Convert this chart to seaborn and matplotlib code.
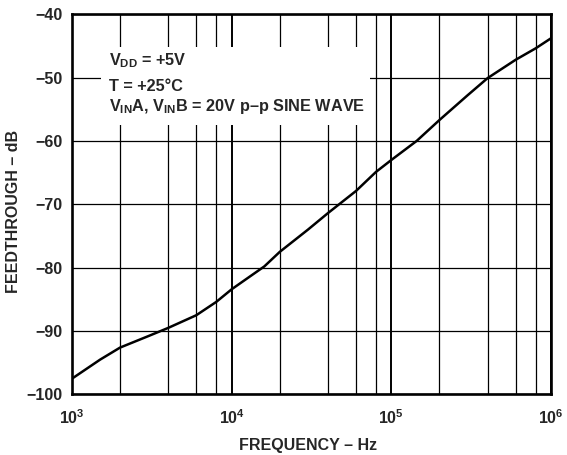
import numpy as np
import pandas as pd
import seaborn as sns
import matplotlib
matplotlib.use("Agg")
import matplotlib.pyplot as plt
from matplotlib.patches import Rectangle

# curve
frecuencia = [1e3, 1.5e3, 2e3, 3e3, 4e3, 6e3, 8e3, 1e4, 1.2e4, 1.6e4, 2e4, 3e4,
              4e4, 6e4, 8e4, 1e5, 1.44e5, 2e5, 3e5, 4e5, 6e5, 8e5, 1e6]
feedthrough = [-97.5, -94.5, -92.6, -90.8, -89.5, -87.5, -85.4, -83.4, -82.0, -79.8, -77.5, -74.0,
               -71.4, -67.9, -64.9, -63.0, -60.0, -56.7, -52.8, -50.1, -47.2, -45.4, -43.8]

xticks = [1e3, 1e4, 1e5, 1e6]
xtick_labels = [r"$10^3$", r"$10^4$", r"$10^5$", r"$10^6$"]
xgrid_menor = [2e3, 4e3, 6e3, 8e3, 2e4, 4e4, 6e4, 8e4, 2e5, 4e5, 6e5, 8e5]
yticks = [-100, -90, -80, -70, -60, -50, -40]
ytick_labels = ["\u2212100", "\u221290", "\u221280", "\u221270", "\u221260", "\u221250", "\u221240"]
notas = [r"$V_{DD}$ = +5V", "T = +25°C", r"$V_{IN}$A, $V_{IN}$B = 20V p" + "\u2013" + "p SINE WAVE"]

sns.set_style("white")
plt.rcParams["font.family"] = ["Liberation Sans", "DejaVu Sans"]
plt.rcParams["font.weight"] = "bold"
plt.rcParams["mathtext.fontset"] = "custom"
plt.rcParams["mathtext.rm"] = "Liberation Sans:bold"
plt.rcParams["mathtext.bf"] = "Liberation Sans:bold"
plt.rcParams["mathtext.it"] = "Liberation Sans:bold"
plt.rcParams["mathtext.default"] = "rm"

df = pd.DataFrame({"f": frecuencia, "db": feedthrough})

fig = plt.figure(figsize=(5.67, 4.55), dpi=100)
ax = fig.add_axes([0.127, 0.133, 0.845, 0.836])
ax.set_xscale("log")
sns.lineplot(data=df, x="f", y="db", ax=ax, color="black", lw=1.8, zorder=3)

ax.set_xlim(1e3, 1e6)
ax.set_ylim(-100, -40)
ax.set_xticks(xticks)
ax.set_xticklabels(xtick_labels)
ax.set_xticks(xgrid_menor, minor=True)
ax.set_xticklabels([], minor=True)
ax.set_yticks(yticks)
ax.set_yticklabels(ytick_labels)
ax.tick_params(which="both", length=0, labelsize=11.5)
ax.tick_params(axis="y", pad=7)
ax.tick_params(axis="x", pad=10)

ax.set_axisbelow(True)
ax.grid(axis="y", which="major", color="black", lw=0.9)
ax.grid(axis="x", which="major", color="black", lw=1.4)
ax.grid(axis="x", which="minor", color="black", lw=0.9)
for s in ax.spines.values():
    s.set_color("black")
    s.set_linewidth(1.9)

# white box behind the conditions
ax.add_patch(Rectangle((0.0605, 0.708), 0.5617, 0.2045, transform=ax.transAxes,
                       facecolor="white", edgecolor="none", zorder=2))
for txt, yy in zip(notas, [0.866, 0.798, 0.745]):
    ax.text(0.0772, yy, txt, transform=ax.transAxes, fontsize=11.7, fontweight="bold",
            ha="left", va="baseline", zorder=4)

ax.set_xlabel("FREQUENCY \u2013 Hz", fontsize=11.5, fontweight="bold")
ax.set_ylabel("FEEDTHROUGH \u2013 dB", fontsize=11.5, fontweight="bold")
ax.xaxis.set_label_coords(0.4927, -0.114)
ax.xaxis.label.set_va("top")
ax.yaxis.set_label_coords(-0.107, 0.482)

fig.savefig("out.png", dpi=100)
